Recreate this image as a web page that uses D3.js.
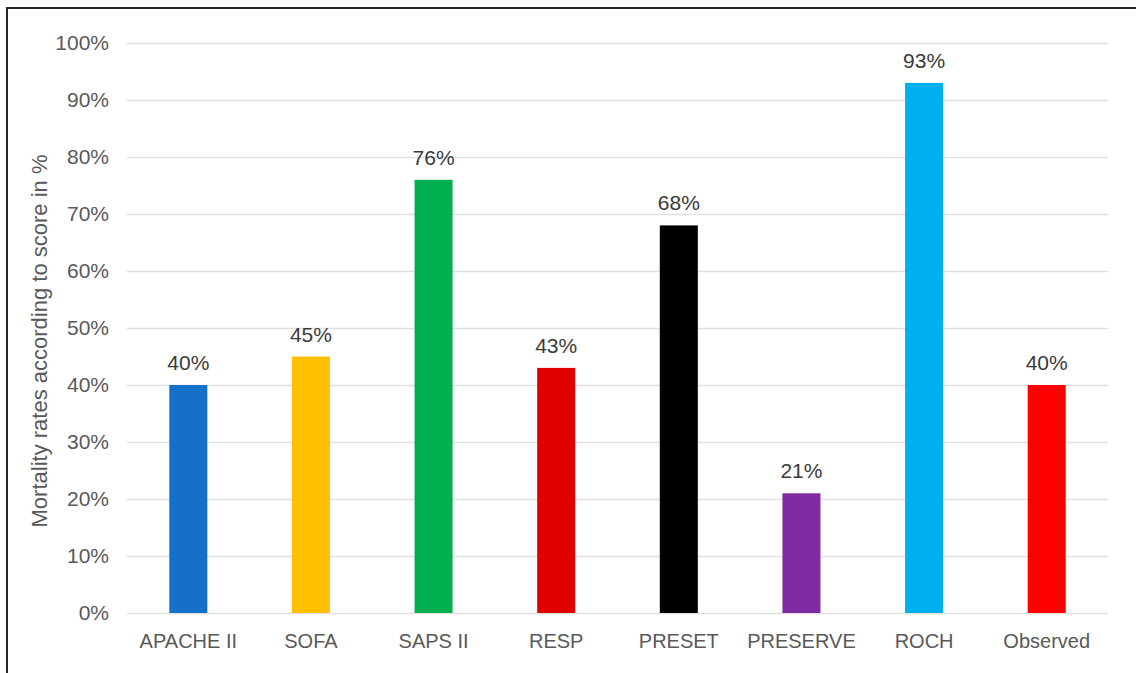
<!DOCTYPE html>
<html>
<head>
<meta charset="utf-8">
<script src="https://cdn.jsdelivr.net/npm/d3@7"></script>
<style>
  body { margin: 0; background: #fff; }
  svg { display: block; }
</style>
</head>
<body>
<svg id="chart" width="1136" height="673"></svg>
<script>
// Predicted mortality by scoring system vs. observed mortality
const categories = ["APACHE II", "SOFA", "SAPS II", "RESP", "PRESET", "PRESERVE", "ROCH", "Observed"];
const values = [40, 45, 76, 43, 68, 21, 93, 40];
const colors = ["#1570C9", "#FFC000", "#00B050", "#E00000", "#000000", "#7F2AA3", "#00B0F0", "#FF0000"];
const yTicks = [0, 10, 20, 30, 40, 50, 60, 70, 80, 90, 100];
const yTitle = "Mortality rates according to score in %";

const svg = d3.select("#chart");
const margin = { left: 127, right: 1108, top: 43, bottom: 613 };
const labelFont = "'Liberation Sans', Arial, sans-serif";

// frame around the chart area
svg.append("path")
  .attr("d", "M7,673 V8 H1136")
  .attr("fill", "none")
  .attr("stroke", "#262626")
  .attr("stroke-width", 2);

const x = d3.scaleBand().domain(categories).range([margin.left, margin.right]).paddingInner(0.69).paddingOuter(0.345);
const y = d3.scaleLinear().domain([0, 100]).range([margin.bottom, margin.top]);

// horizontal gridlines with percent labels
const yAxis = d3.axisLeft(y).tickValues(yTicks).tickFormat(d => d + "%").tickSize(-(margin.right - margin.left)).tickPadding(18);
const gy = svg.append("g").attr("transform", `translate(${margin.left},0)`).call(yAxis);
gy.select(".domain").remove();
gy.selectAll(".tick line").attr("stroke", "#E0E0E0").attr("stroke-width", 1.5);
gy.selectAll(".tick text").attr("fill", "#595959").style("font-family", labelFont).style("font-size", "21px");

// bars
svg.append("g").selectAll("rect").data(values).join("rect")
  .attr("x", (d, i) => x(categories[i]))
  .attr("y", d => y(d))
  .attr("width", x.bandwidth())
  .attr("height", d => y(0) - y(d))
  .attr("fill", (d, i) => colors[i]);

// value labels above bars
svg.append("g").selectAll("text").data(values).join("text")
  .attr("x", (d, i) => x(categories[i]) + x.bandwidth() / 2)
  .attr("y", d => y(d) - 15)
  .attr("text-anchor", "middle")
  .attr("fill", "#3A3A3A")
  .style("font-family", labelFont)
  .style("font-size", "21px")
  .text(d => d + "%");

// category axis
const xAxis = d3.axisBottom(x).tickSize(0).tickPadding(21);
const gx = svg.append("g").attr("transform", `translate(0,${margin.bottom})`).call(xAxis);
gx.select(".domain").remove();
gx.selectAll(".tick text").attr("fill", "#595959").style("font-family", labelFont).style("font-size", "20px");

// y-axis title
svg.append("text")
  .attr("transform", `translate(47,341) rotate(-90)`)
  .attr("text-anchor", "middle")
  .attr("fill", "#595959")
  .style("font-family", labelFont)
  .style("font-size", "22px")
  .text(yTitle);
</script>
</body>
</html>
